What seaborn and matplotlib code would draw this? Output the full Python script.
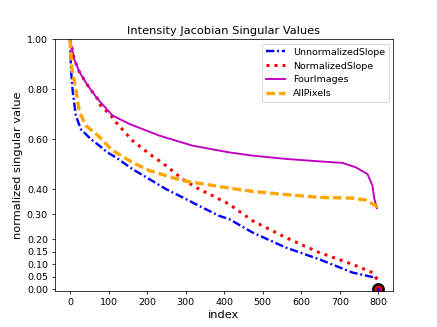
import numpy as np
import pandas as pd
import matplotlib
matplotlib.use("Agg")
import matplotlib.pyplot as plt
import seaborn as sns

# singular values (index, normalized value)
unnorm_idx = [0, 2.5, 7, 15, 28, 54, 76, 97, 119, 162, 206, 249, 292, 335, 387, 413, 474, 560, 647, 733, 794, 799]
unnorm_val = [1.0, 0.88, 0.79, 0.695, 0.64, 0.60, 0.574, 0.547, 0.527, 0.48, 0.44, 0.40, 0.367, 0.333, 0.293, 0.28, 0.226, 0.166, 0.119, 0.066, 0.045, 0.03]

norm_idx = [0, 11, 24, 46, 72, 76, 106, 119, 162, 206, 249, 292, 335, 379, 387, 413, 474, 560, 647, 733, 785, 794, 799]
norm_val = [1.0, 0.92, 0.87, 0.815, 0.76, 0.74, 0.695, 0.668, 0.594, 0.541, 0.494, 0.44, 0.40, 0.367, 0.36, 0.34, 0.273, 0.206, 0.146, 0.099, 0.066, 0.045, 0.04]

four_idx = [0, 11, 24, 46, 72, 110, 154, 232, 318, 413, 474, 560, 647, 707, 742, 772, 785, 789, 796]
four_val = [1.0, 0.92, 0.87, 0.815, 0.76, 0.695, 0.661, 0.614, 0.574, 0.547, 0.534, 0.521, 0.511, 0.505, 0.487, 0.46, 0.414, 0.367, 0.324]

allpix_idx = [0, 2.5, 5, 15, 24, 41, 72, 110, 162, 206, 292, 413, 474, 560, 647, 733, 768, 794, 799]
allpix_val = [1.0, 0.935, 0.88, 0.80, 0.71, 0.655, 0.615, 0.555, 0.507, 0.474, 0.434, 0.404, 0.391, 0.378, 0.367, 0.364, 0.356, 0.333, 0.33]

last_idx = [799]
last_val = [0.0]

ytick_vals = [0.0, 0.05, 0.10, 0.15, 0.20, 0.30, 0.40, 0.60, 0.80, 1.00]

fig, ax = plt.subplots(figsize=(437 / 68.3, 327 / 68.3), dpi=68.3)

sns.lineplot(x=unnorm_idx, y=unnorm_val, ax=ax, color="blue", linestyle=(0, (3.5, 1.2, 0.8, 1.2)), linewidth=2.5, label="UnnormalizedSlope")
sns.lineplot(x=norm_idx, y=norm_val, ax=ax, color="red", linestyle=":", linewidth=3.2, label="NormalizedSlope")
sns.lineplot(x=four_idx, y=four_val, ax=ax, color="m", linestyle="-", linewidth=2, label="FourImages")
sns.lineplot(x=allpix_idx, y=allpix_val, ax=ax, color="orange", linestyle=(0, (2.6, 1.2)), linewidth=3.5, label="AllPixels")

# last singular value marker
ax.plot(last_idx, last_val, "o", color="red", markeredgecolor="black", markeredgewidth=2.5, markersize=11)
ax.plot(last_idx, last_val, "o", color="blue", markersize=3)

ax.set_ylim(-0.008, 1.0)
ax.set_yticks(ytick_vals)
ax.set_yticklabels(["%.2f" % v for v in ytick_vals])
ax.set_xticks(range(0, 801, 100))
ax.set_title("Intensity Jacobian Singular Values")
ax.set_xlabel("index", fontsize=12)
ax.set_ylabel("normalized singular value", fontsize=12)
ax.legend(loc="upper right")

fig.savefig("out.png", dpi=68.3)
